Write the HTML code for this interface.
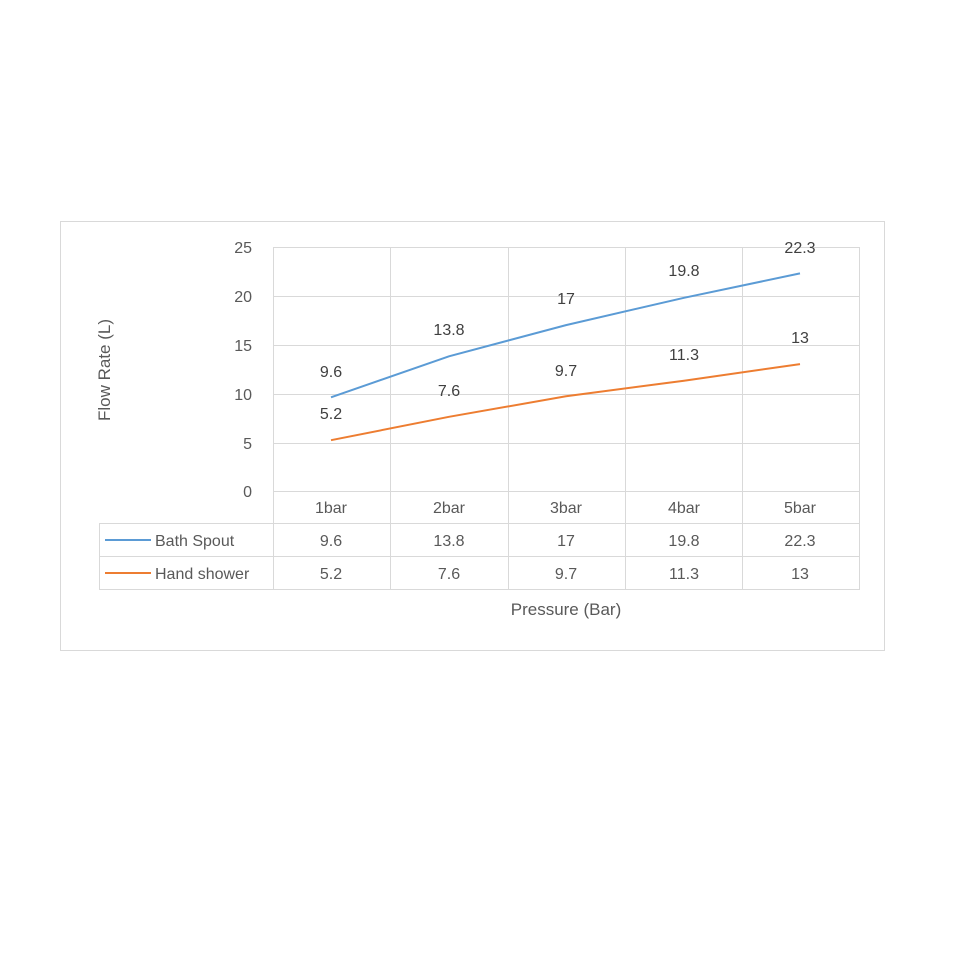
<!DOCTYPE html>
<html><head><style>body{margin:0;background:#fff}</style></head><body>
<svg width="970" height="970" xmlns="http://www.w3.org/2000/svg" font-family="Liberation Sans, sans-serif">
<rect x="60.5" y="221.5" width="824" height="429" fill="#fff" stroke="#d9d9d9"/>
<g stroke="#d9d9d9" stroke-width="1">
<line x1="273" y1="247.5" x2="859" y2="247.5"/>
<line x1="273" y1="296.5" x2="859" y2="296.5"/>
<line x1="273" y1="345.5" x2="859" y2="345.5"/>
<line x1="273" y1="394.5" x2="859" y2="394.5"/>
<line x1="273" y1="443.5" x2="859" y2="443.5"/>
<line x1="273.5" y1="247" x2="273.5" y2="590"/>
<line x1="390.5" y1="247" x2="390.5" y2="590"/>
<line x1="508.5" y1="247" x2="508.5" y2="590"/>
<line x1="625.5" y1="247" x2="625.5" y2="590"/>
<line x1="742.5" y1="247" x2="742.5" y2="590"/>
<line x1="859.5" y1="247" x2="859.5" y2="590"/>
<line x1="273" y1="491.5" x2="859" y2="491.5"/>
<line x1="99" y1="523.5" x2="859" y2="523.5"/>
<line x1="99" y1="556.5" x2="859" y2="556.5"/>
<line x1="99" y1="589.5" x2="859" y2="589.5"/>
<line x1="99.5" y1="523" x2="99.5" y2="590"/>
</g>
<g fill="#595959" font-size="16" text-anchor="end">
<text x="252" y="253">25</text><text x="252" y="302">20</text><text x="252" y="351">15</text>
<text x="252" y="400">10</text><text x="252" y="449">5</text><text x="252" y="497">0</text>
</g>
<text transform="translate(110,370) rotate(-90)" fill="#595959" font-size="17" text-anchor="middle">Flow Rate (L)</text>
<text x="566" y="615" fill="#595959" font-size="17" text-anchor="middle">Pressure (Bar)</text>
<g fill="#595959" font-size="16" text-anchor="middle">
<text x="331" y="513">1bar</text><text x="449" y="513">2bar</text><text x="566" y="513">3bar</text><text x="684" y="513">4bar</text><text x="800" y="513">5bar</text>
<text x="331" y="546">9.6</text><text x="449" y="546">13.8</text><text x="566" y="546">17</text><text x="684" y="546">19.8</text><text x="800" y="546">22.3</text>
<text x="331" y="579">5.2</text><text x="449" y="579">7.6</text><text x="566" y="579">9.7</text><text x="684" y="579">11.3</text><text x="800" y="579">13</text>
</g>
<g fill="#595959" font-size="16">
<text x="155" y="546">Bath Spout</text><text x="155" y="579">Hand shower</text>
</g>
<line x1="105" y1="540" x2="151" y2="540" stroke="#5b9bd5" stroke-width="2"/>
<line x1="105" y1="573" x2="151" y2="573" stroke="#ed7d31" stroke-width="2"/>
<polyline fill="none" stroke="#5b9bd5" stroke-width="2" points="331,397.3 449,356.3 566,325.1 684,297.8 800,273.4"/>
<polyline fill="none" stroke="#ed7d31" stroke-width="2" points="331,440.2 449,416.8 566,396.3 684,380.7 800,364.1"/>
<g fill="#404040" font-size="16" text-anchor="middle">
<text x="331" y="377">9.6</text><text x="449" y="335">13.8</text><text x="566" y="304">17</text><text x="684" y="276">19.8</text><text x="800" y="253">22.3</text>
<text x="331" y="419">5.2</text><text x="449" y="396">7.6</text><text x="566" y="376">9.7</text><text x="684" y="360">11.3</text><text x="800" y="343">13</text>
</g>
</svg>
</body></html>
